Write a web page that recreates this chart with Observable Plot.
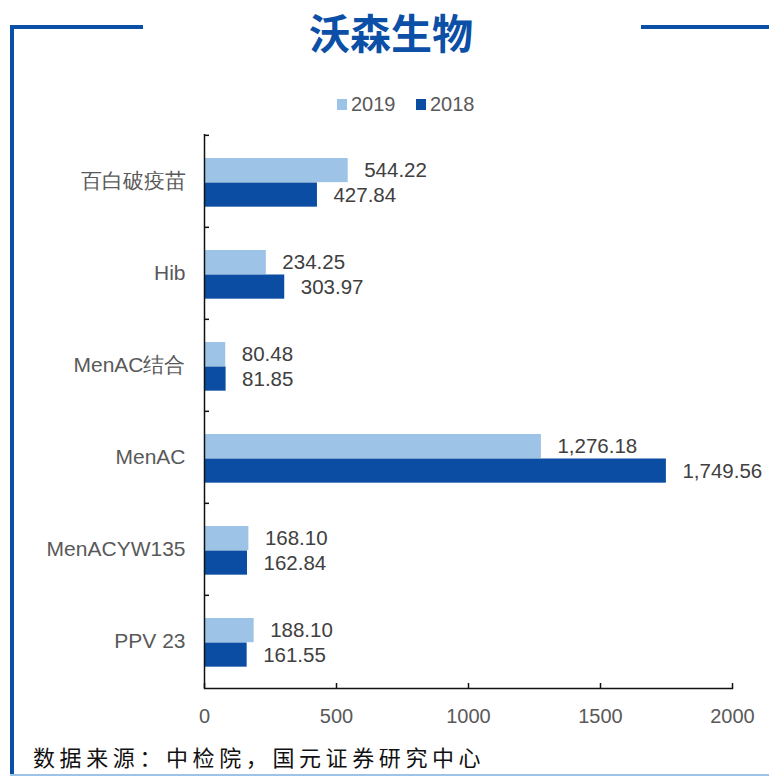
<!DOCTYPE html>
<html><head><meta charset="utf-8">
<script src="https://cdn.jsdelivr.net/npm/d3@7"></script>
<script src="https://cdn.jsdelivr.net/npm/@observablehq/plot@0.6"></script>
<style>
body{margin:0;background:#fff;}
#wrap{position:relative;width:769px;height:776px;overflow:hidden;font-family:"Liberation Sans",Arial,sans-serif;background:#fff;}
.bl{position:absolute;background:#0a4fa8;}
#title{position:absolute;left:241px;top:5px;width:300px;text-align:center;font-family:"Noto Sans CJK SC",sans-serif;font-weight:bold;font-size:41px;color:#0b4fa6;line-height:52px;}
.sw{position:absolute;width:10px;height:11px;}
.lt{position:absolute;font-size:20px;color:#595959;line-height:20px;}
#chart{position:absolute;left:0;top:120px;}
#source{position:absolute;left:33px;top:742px;font-family:"Noto Sans CJK SC",sans-serif;font-size:22px;letter-spacing:4.6px;color:#111;line-height:28px;}
</style></head><body>
<div id="wrap">
  <div class="bl" style="left:10px;top:25px;width:133px;height:4px"></div>
  <div class="bl" style="left:641px;top:25px;width:128px;height:4px"></div>
  <div class="bl" style="left:10px;top:25px;width:4px;height:751px"></div>
  <div class="bl" style="left:10px;top:774px;width:759px;height:2px;background:#9dc3e6"></div>
  <div id="title">沃森生物</div>
  <div id="legend"></div>
  <div id="chart"></div>
  <div id="source">数据来源：中检院，国元证券研究中心</div>
</div>
<script>
const categories = ["百白破疫苗", "Hib", "MenAC结合", "MenAC", "MenACYW135", "PPV 23"];
const values2019 = [544.22, 234.25, 80.48, 1276.18, 168.10, 188.10];
const values2018 = [427.84, 303.97, 81.85, 1749.56, 162.84, 161.55];
const seriesNames = ["2019", "2018"];
const seriesColors = ["#9DC3E6", "#0B4DA2"];
const xTicks = [0, 500, 1000, 1500, 2000];

const data2019 = categories.map((c, i) => ({cat: c, value: values2019[i]}));
const data2018 = categories.map((c, i) => ({cat: c, value: values2018[i]}));
const fmt = d3.format(",.2f");

// legend
const legend = document.getElementById("legend");
const legPos = [[337, 351], [416, 430]];
seriesNames.forEach((s, i) => {
  const sw = document.createElement("div");
  sw.className = "sw";
  sw.style.left = legPos[i][0] + "px";
  sw.style.top = "99px";
  sw.style.background = seriesColors[i];
  legend.appendChild(sw);
  const t = document.createElement("div");
  t.className = "lt";
  t.style.left = legPos[i][1] + "px";
  t.style.top = "94px";
  t.textContent = s;
  legend.appendChild(t);
});

const H = 620, mt = 14, mb = 52;
const bw = (H - mt - mb) / categories.length;

const chart = Plot.plot({
  width: 769,
  height: H,
  marginTop: mt,
  marginBottom: mb,
  marginLeft: 204,
  marginRight: 37,
  style: {fontFamily: "'Liberation Sans', Arial, sans-serif", fontSize: "20px", background: "transparent"},
  x: {domain: [0, 2000], label: null},
  y: {domain: categories, padding: 0, label: null},
  marks: [
    Plot.barX(data2019, {x: "value", y: "cat", fill: seriesColors[0], insetTop: 23, insetBottom: bw - 23 - 24.5}),
    Plot.barX(data2018, {x: "value", y: "cat", fill: seriesColors[1], insetTop: 47.5, insetBottom: bw - 47.5 - 24.5}),
    Plot.text(data2019, {x: "value", y: "cat", text: d => fmt(d.value), dx: 16, dy: -11, textAnchor: "start", fill: "#404040", fontSize: 20.5}),
    Plot.text(data2018, {x: "value", y: "cat", text: d => fmt(d.value), dx: 16, dy: 13.5, textAnchor: "start", fill: "#404040", fontSize: 20.5}),
    Plot.axisX({ticks: xTicks, tickSize: 0, tickPadding: 20, tickFormat: d => String(d), fill: "#595959", fontSize: 20, label: null}),
    Plot.axisX({ticks: xTicks, tickSize: -5, tickFormat: () => "", stroke: "#111", strokeWidth: 1.5, label: null}),
    Plot.axisY({tickSize: 0, tickPadding: 19, fill: "#595959", fontSize: 21, label: null}),
    Plot.axisY({tickSize: -5, tickFormat: () => "", dy: -bw / 2, stroke: "#111", strokeWidth: 1.5, label: null}),
    Plot.ruleX([0], {stroke: "#111", strokeWidth: 1.5}),
    Plot.frame({anchor: "bottom", stroke: "#111", strokeWidth: 1.5})
  ]
});
document.getElementById("chart").appendChild(chart);
</script>
</body></html>
